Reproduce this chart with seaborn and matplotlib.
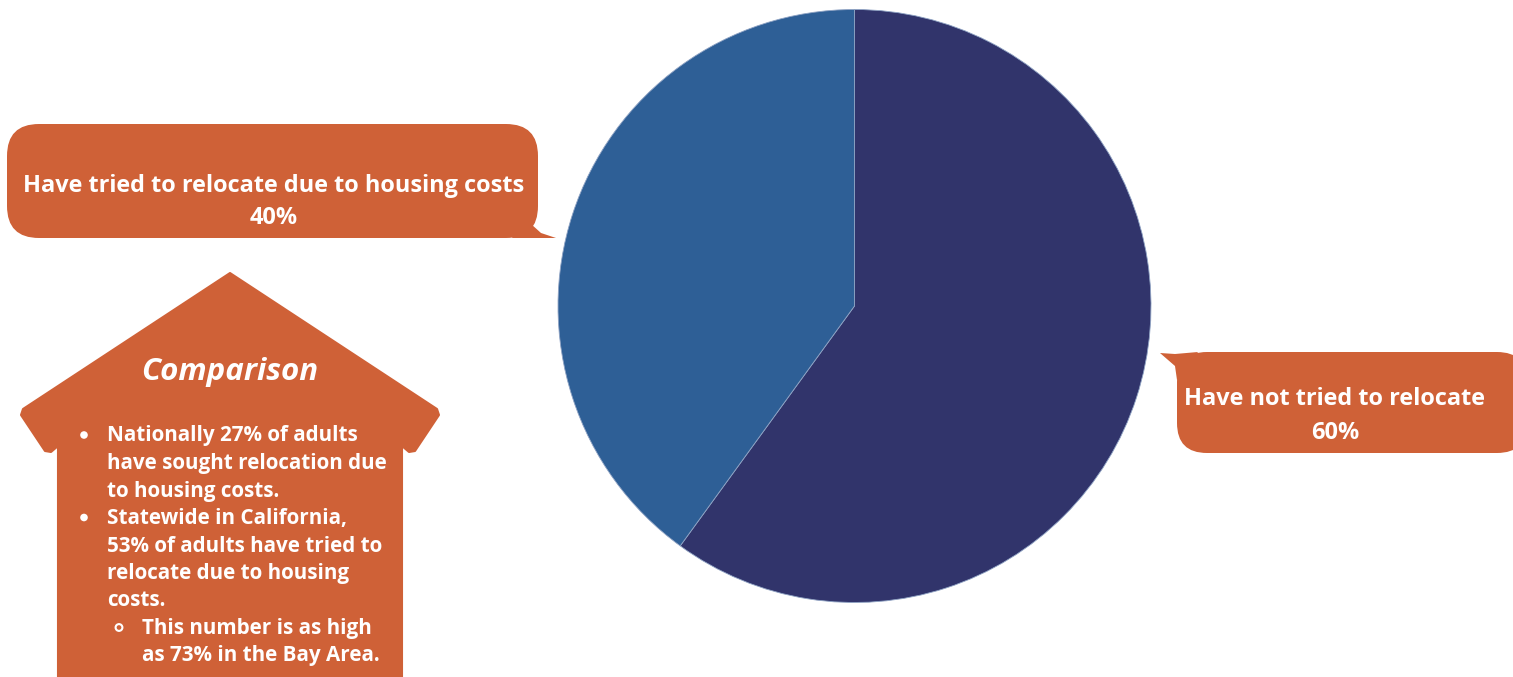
import matplotlib
matplotlib.use("Agg")
import matplotlib.pyplot as plt
import seaborn as sns
from matplotlib.patches import FancyBboxPatch, Polygon, Circle

# ---- data ----
categories = ["Have not tried to relocate", "Have tried to relocate due to housing costs"]
values = [60, 40]
value_labels = ["60%", "40%"]
comparison_title = "Comparison"
bullets = [
    ["Nationally 27% of adults", "have sought relocation due", "to housing costs."],
    ["Statewide in California,", "53% of adults have tried to", "relocate due to housing", "costs."],
]
sub_bullet = ["This number is as high", "as 73% in the Bay Area."]

sns.set_theme(style="white")
plt.rcParams['font.family'] = ['Open Sans', 'DejaVu Sans']

NAVY = "#31346b"
BLUE = "#2e5f96"
ORANGE = "#cf6137"
pie_colors = sns.color_palette([NAVY, BLUE])

W, H = 1513, 677
fig = plt.figure(figsize=(W / 100, H / 100), dpi=100)
fig.patch.set_facecolor("white")

# pie axes: center (854,306), radius 296
cx, cy, r = 854.5, 306, 296.5
pax = fig.add_axes([(cx - r) / W, (H - cy - r) / H, 2 * r / W, 2 * r / H])
pax.pie(values, colors=pie_colors, startangle=90, counterclock=False,
        wedgeprops=dict(linewidth=0.6, edgecolor="#8fa3c4"))
pax.set_aspect("auto")
pax.set_xlim(-1, 1)
pax.set_ylim(-1, 1)
pax.axis("off")

# overlay axes in pixel coords
ax = fig.add_axes([0, 0, 1, 1])
ax.set_xlim(0, W)
ax.set_ylim(H, 0)
ax.axis("off")
ax.patch.set_alpha(0)

CALL_FS = 16.9
BODY_FS = 14.9

# left callout
ax.add_patch(FancyBboxPatch((7, 124), 531, 114,
                            boxstyle="round,pad=0,rounding_size=32",
                            fc=ORANGE, ec="none"))
ax.add_patch(Polygon([(526, 212), (531, 224), (541, 233), (556, 238), (512, 238)],
                     closed=True, fc=ORANGE, ec="none"))
ax.text(274, 186, categories[1], ha="center", va="center", color="white",
        fontsize=CALL_FS, fontweight="bold")
ax.text(274, 218, value_labels[1], ha="center", va="center", color="white",
        fontsize=CALL_FS, fontweight="bold")

# right callout
ax.add_patch(FancyBboxPatch((1177, 352), 350, 101,
                            boxstyle="round,pad=0,rounding_size=30",
                            fc=ORANGE, ec="none"))
ax.add_patch(Polygon([(1160, 353), (1175, 354), (1198, 352), (1177, 380), (1175, 366)],
                     closed=True, fc=ORANGE, ec="none"))
ax.text(1335, 399, categories[0], ha="center", va="center", color="white",
        fontsize=CALL_FS, fontweight="bold")
ax.text(1335, 433, value_labels[0], ha="center", va="center", color="white",
        fontsize=CALL_FS, fontweight="bold")

# house shape
house = [(230, 273), (437, 409), (439, 415), (415, 451), (409, 452), (402, 446),
         (402, 677), (58, 677), (58, 446), (51, 452), (45, 451), (21, 415),
         (23, 409)]
ax.add_patch(Polygon(house, closed=True, fc=ORANGE, ec=ORANGE, lw=1.5, joinstyle="round"))

ax.text(230, 372, comparison_title, ha="center", va="center", color="white",
        fontsize=22.5, fontweight="bold", fontstyle="italic")

y = 436
step = 27.5
for lines in bullets:
    ax.add_patch(Circle((84, y - 1), 3.8, fc="white", ec="none"))
    for ln in lines:
        ax.text(107, y, ln, ha="left", va="center", color="white",
                fontsize=BODY_FS, fontweight="bold")
        y += step
ax.add_patch(Circle((119, y - 1), 3.4, fc="none", ec="white", lw=1.5))
for ln in sub_bullet:
    ax.text(142, y, ln, ha="left", va="center", color="white",
            fontsize=BODY_FS, fontweight="bold")
    y += step

fig.savefig("out.png", dpi=100, facecolor="white")
